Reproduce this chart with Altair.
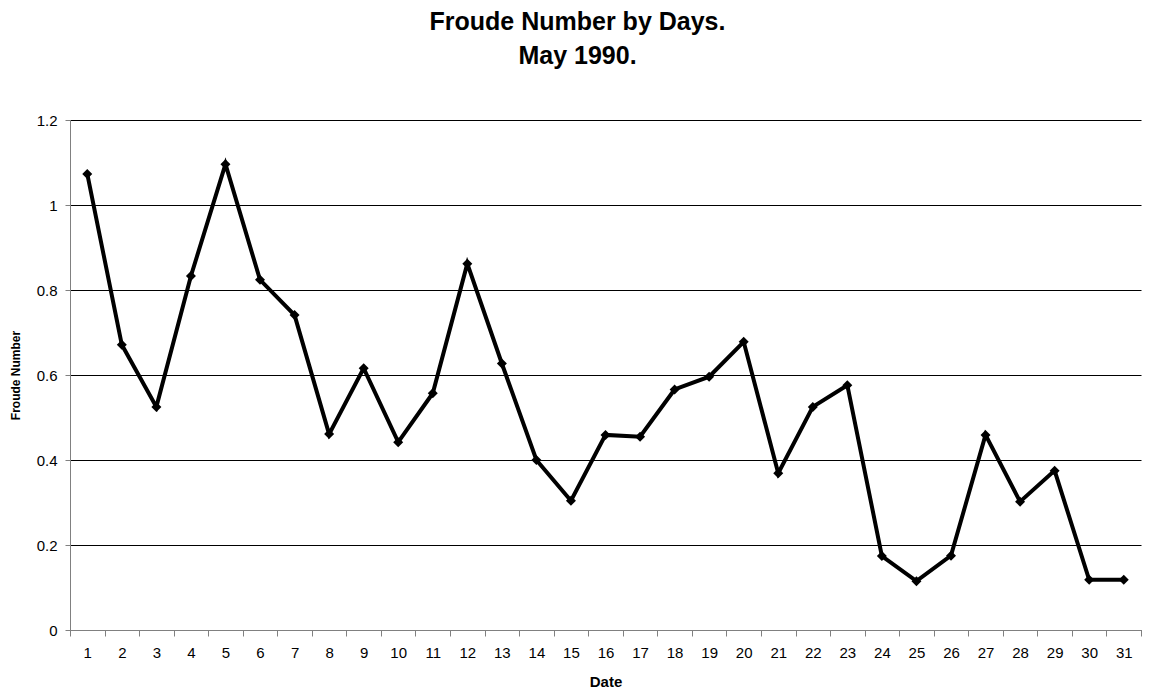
import altair as alt
import pandas as pd

days = list(range(1, 32))
froude = [1.073, 0.671, 0.525, 0.833, 1.096, 0.824, 0.741, 0.461, 0.616, 0.442,
          0.557, 0.862, 0.627, 0.400, 0.304, 0.459, 0.455, 0.566, 0.596, 0.678,
          0.369, 0.525, 0.576, 0.174, 0.115, 0.175, 0.459, 0.302, 0.375, 0.118,
          0.118]
y_ticks = [0, 0.2, 0.4, 0.6, 0.8, 1.0, 1.2]

df = pd.DataFrame({"Date": days, "Froude": froude})

FONT = "Liberation Sans"

x = alt.X("Date:O", sort=days,
          scale=alt.Scale(paddingInner=0, paddingOuter=0),
          axis=alt.Axis(title="Date", labelAngle=0, tickBand="extent",
                        labelFontSize=15, labelColor="#000", labelPadding=9,
                        titleFontSize=15, titleFontWeight="bold", titleColor="#000",
                        titlePadding=14, domainColor="#808080", tickColor="#808080",
                        tickSize=6, grid=False))
y = alt.Y("Froude:Q",
          scale=alt.Scale(domain=[0, 1.2], nice=False),
          axis=alt.Axis(title="Froude Number", values=y_ticks, format="~g",
                        labelFontSize=15, labelColor="#000", labelPadding=8,
                        titleFontSize=12, titleFontWeight="bold", titleColor="#000",
                        titlePadding=14, domainColor="#808080", tickColor="#808080",
                        tickSize=5, grid=True, gridColor="#000", gridWidth=1))

base = alt.Chart(df)
line = base.mark_line(color="#000", strokeWidth=4).encode(x=x, y=y)
pts = base.mark_point(shape="diamond", filled=True, color="#000", size=100, opacity=1).encode(x=x, y=y)

chart = (line + pts).properties(
    width=1071, height=510,
    title=alt.TitleParams(["Froude Number by Days.", "May 1990."], fontSize=25,
                          fontWeight="bold", font=FONT, color="#000", lineHeight=34,
                          anchor="middle", dx=-28, offset=44),
    autosize=alt.AutoSizeParams(type="none"),
    padding={"left": 62, "top": 112, "right": 5, "bottom": 59},
).configure(font=FONT).configure_view(stroke=None).configure_axis(labelFont=FONT, titleFont=FONT)

chart.save("out.html", embed_options={"renderer": "svg", "actions": False})
